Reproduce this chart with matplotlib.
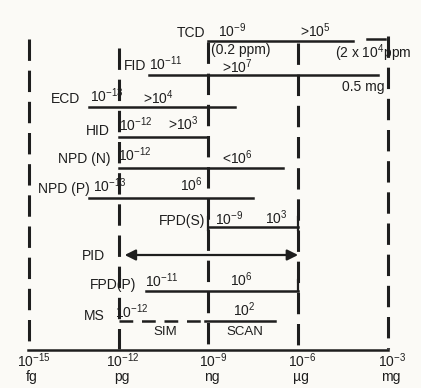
import matplotlib.pyplot as plt
import numpy as np

plt.rcParams['font.family'] = ['Liberation Sans', 'DejaVu Sans']
plt.rcParams['mathtext.fontset'] = 'custom'
plt.rcParams['mathtext.rm'] = 'Liberation Sans'
plt.rcParams['mathtext.default'] = 'regular'

# detection ranges, log10 of grams
detectors = ['TCD', 'FID', 'ECD', 'HID', 'NPD (N)', 'NPD (P)', 'FPD(S)', 'PID', 'FPD(P)', 'MS']
low_log = [-9, -11, -13, -12, -12, -13, -9, -11.8, -11.1, -12]
high_log = [-4.15, -3.33, -8.1, -9, -6.5, -7.5, -6, -6, -6, -6.77]
low_labels = ['$10^{-9}$', '$10^{-11}$', '$10^{-13}$', '$10^{-12}$', '$10^{-12}$',
              '$10^{-13}$', '$10^{-9}$', '', '$10^{-11}$', '$10^{-12}$']
range_labels = ['>$10^5$', '>$10^7$', '>$10^4$', '>$10^3$', '<$10^6$',
                '$10^6$', '$10^3$', '', '$10^6$', '$10^2$']

# MS split: SIM (dashed) / SCAN (solid)
ms_split = -9.1

decades = [-15, -12, -9, -6, -3]
decade_labels = ['$10^{-15}$', '$10^{-12}$', '$10^{-9}$', '$10^{-6}$', '$10^{-3}$']
units = ['fg', 'pg', 'ng', 'µg', 'mg']

# layout (y in pixel rows, x positions in log10 units)
row_y = [41, 75, 107, 137, 168, 198, 227, 255, 291, 321]
name_x = [-9.11, -11.09, -13.29, -12.29, -12.26, -12.96, -9.11, -12.46, -11.42, -12.46]
name_y = [33, 66, 99, 131, 159, 189, 221, 256, 285, 316]
low_x = [-8.68, -10.99, -12.96, -11.99, -12.02, -12.86, -8.78, 0, -11.12, -12.12]
low_y = [31, 64, 96, 125, 155, 186, 219, 0, 281, 312]
rng_x = [-5.94, -8.55, -11.19, -10.35, -8.55, -9.95, -7.11, 0, -8.28, -8.18]
rng_y = [31, 67, 98, 124, 158, 185, 218, 0, 280, 310]

ink = '#1e1e1e'
fs = 10
fig = plt.figure(figsize=(4.21, 3.88), dpi=100)
fig.patch.set_facecolor('#fbfaf6')
ax = fig.add_axes([0, 0, 1, 1])
ax.set_facecolor('#fbfaf6')
ax.set_xscale('log')
ax.set_xlim(10 ** -15.97, 10 ** -1.89)
ax.set_ylim(388, 0)
ax.axis('off')

# dashed decade guides
grid_top = [39, 48, 42, 43, 36]
for d, top in zip(decades, grid_top):
    ax.plot([10.0 ** d] * 2, [top, 349], color=ink, lw=2.2, ls=(0, (7, 3.2)))

# axis
ax.plot([10 ** -15.05, 10 ** -3.0], [350, 350], color=ink, lw=1.8)
for d, lab, u in zip(decades, decade_labels, units):
    ax.text(10.0 ** (d + 0.15), 361, lab, ha='center', va='center', fontsize=fs, color=ink)
    ax.text(10.0 ** (d + 0.1), 377, u, ha='center', va='center', fontsize=fs, color=ink)

for i, name in enumerate(detectors):
    y = row_y[i]
    lo, hi = 10.0 ** low_log[i], 10.0 ** high_log[i]
    ax.text(10.0 ** name_x[i], name_y[i], name, ha='right', va='center', fontsize=fs, color=ink)
    if name == 'PID':
        ax.annotate('', xy=(lo, y), xytext=(hi, y),
                    arrowprops=dict(arrowstyle='<|-|>', color=ink, lw=1.6, mutation_scale=16,
                                    shrinkA=0, shrinkB=0))
        continue
    if name == 'MS':
        ax.plot([lo, 10 ** ms_split], [y, y], color=ink, lw=1.8, ls=(0, (5.5, 3.5)))
        ax.plot([10 ** ms_split, hi], [y, y], color=ink, lw=1.8)
    elif name == 'TCD':
        ax.plot([lo, hi], [y, y], color=ink, lw=1.8)
        ax.plot([10 ** -3.7, 10 ** -3.1], [y - 2, y - 2], color=ink, lw=1.8)
    else:
        ax.plot([lo, hi], [y, y], color=ink, lw=1.8)
    if name == 'FPD(S)':
        ax.plot([lo, lo], [y - 10, y + 3], color=ink, lw=1.6)
        ax.plot([hi, hi], [y - 10, y + 3], color=ink, lw=1.6)
    if name == 'FPD(P)':
        ax.plot([hi, hi], [y - 11, y], color=ink, lw=1.6)
    ax.text(10.0 ** low_x[i], low_y[i], low_labels[i], ha='left', va='center', fontsize=fs, color=ink)
    ax.text(10.0 ** rng_x[i], rng_y[i], range_labels[i], ha='left', va='center', fontsize=fs, color=ink)

# notes
ax.text(10 ** -8.9, 50, '(0.2 ppm)', ha='left', va='center', fontsize=fs, color=ink)
ax.text(10 ** -4.75, 53, '(2 x 10$^4$ppm', ha='left', va='center', fontsize=fs, color=ink)
ax.text(10 ** -3.1, 87, '0.5 mg', ha='right', va='center', fontsize=fs, color=ink)
ax.text(10 ** -10.45, 332, 'SIM', ha='center', va='center', fontsize=9.5, color=ink)
ax.text(10 ** -7.78, 332, 'SCAN', ha='center', va='center', fontsize=9.5, color=ink)

fig.savefig('out.png', dpi=100, facecolor=fig.get_facecolor())
